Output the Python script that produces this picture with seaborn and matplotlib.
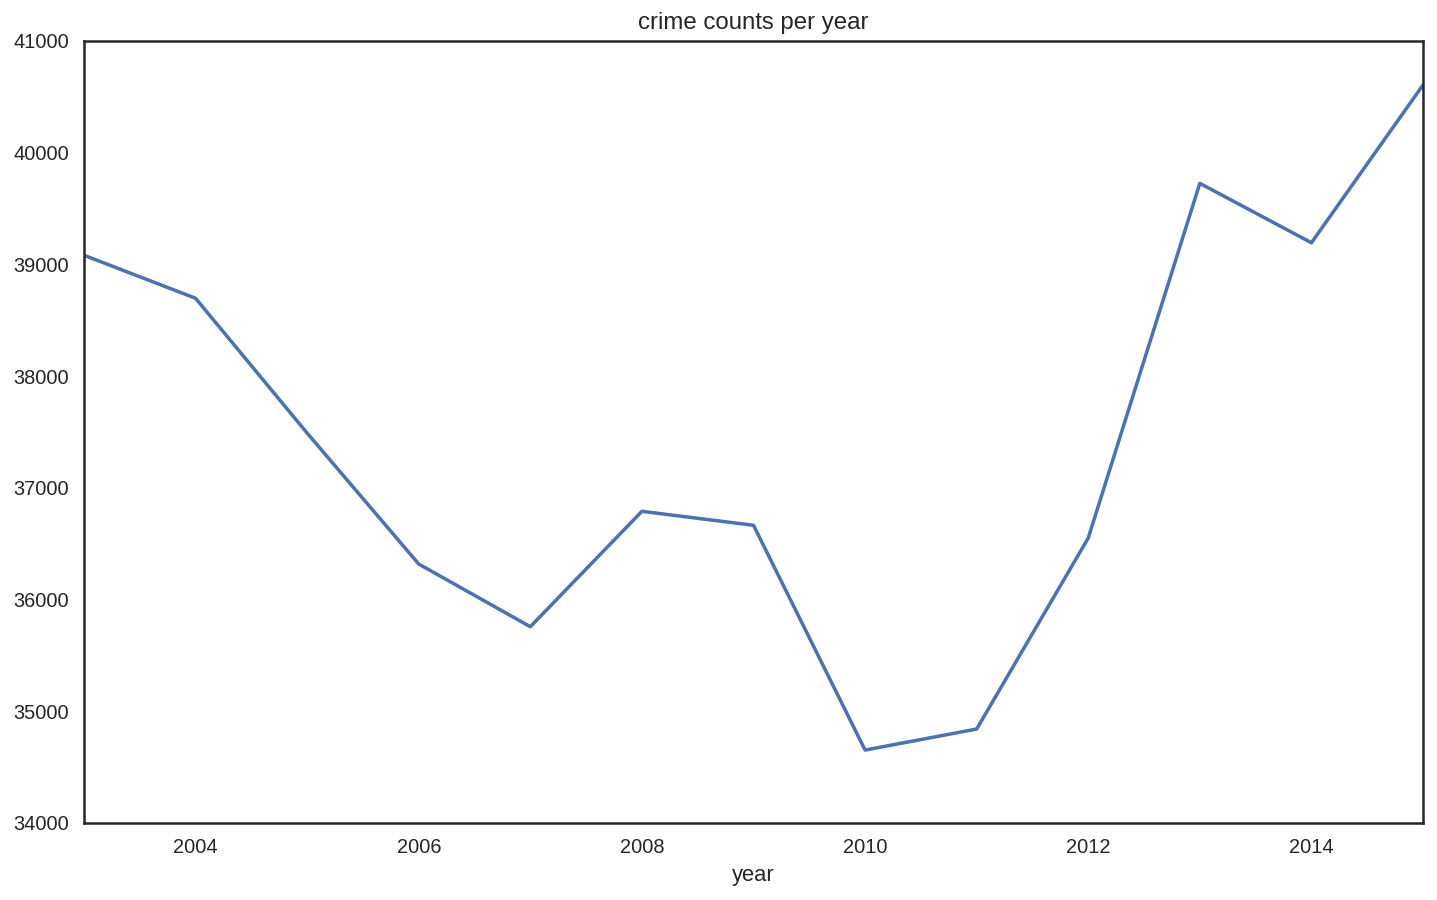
import matplotlib
matplotlib.use("Agg")
import matplotlib.pyplot as plt
import seaborn as sns
import pandas as pd

years = [2003, 2004, 2005, 2006, 2007, 2008, 2009, 2010, 2011, 2012, 2013, 2014, 2015]
counts = [39082, 38697, 37490, 36318, 35757, 36790, 36665, 34653, 34841, 36551, 39726, 39194, 40606]

sns.set_theme(style="white", context="notebook",
              rc={"xtick.labelsize": 10, "ytick.labelsize": 10,
                  "axes.labelsize": 11, "axes.titlesize": 12,
                  "xtick.major.size": 0, "ytick.major.size": 0,
                  "xtick.major.pad": 7.5, "ytick.major.pad": 7.5})
plt.rcParams['font.family'] = ['Liberation Sans', 'DejaVu Sans']

df = pd.DataFrame({"year": years, "count": counts})

fig = plt.figure(figsize=(1437 / 144, 900 / 144), dpi=144)
ax = fig.add_axes([84 / 1437, 1 - 823 / 900, (1423 - 84) / 1437, (823 - 41) / 900])
sns.lineplot(data=df, x="year", y="count", ax=ax, color="#4C72B0", linewidth=1.75)
ax.set_xlim(2003, 2015)
ax.set_ylim(34000, 41000)
ax.set_xticks([2004, 2006, 2008, 2010, 2012, 2014])
ax.set_yticks(range(34000, 41001, 1000))
ax.set_ylabel("")
ax.set_xlabel("year")
ax.set_title("crime counts per year")
for s in ax.spines.values():
    s.set_color("#262626")
fig.savefig("out.png", dpi=144)
